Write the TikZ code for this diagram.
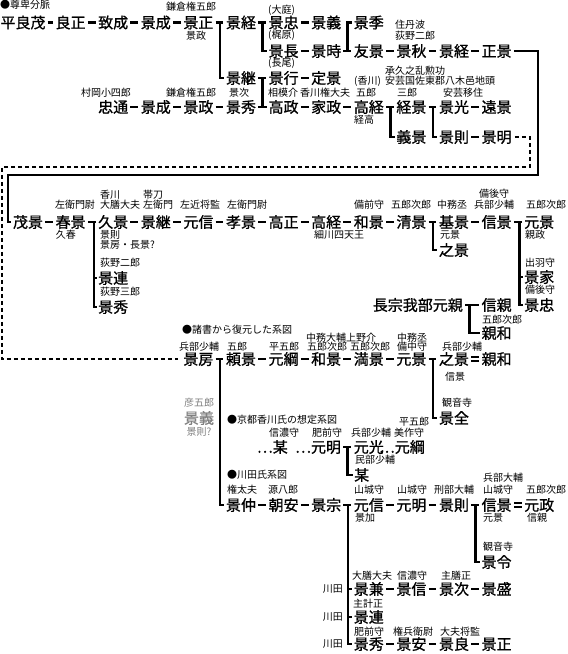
\documentclass[tikz,border=0pt]{standalone}
\usepackage{fontspec}
\setmainfont{Noto Sans CJK JP}
\newfontfamily\jpreg{Noto Sans CJK JP}
\newfontfamily\jpbold[FakeBold=1]{Noto Sans CJK JP}
\newcommand\nmf{\jpbold\fontsize{15}{16}\selectfont}
\newcommand\smf{\jpreg\fontsize{10}{11}\selectfont}
\usetikzlibrary{calc}
\begin{document}
\begin{tikzpicture}[x=1pt,y=-1pt,
  nm/.style={font=\nmf, inner sep=0pt, text height=13.2pt, text depth=1.8pt},
  sm/.style={font=\smf, inner sep=0pt, text height=8.8pt, text depth=1.2pt},
  gr/.style={text=black!50},
  ln/.style={line width=2.6pt},
  lk/.style={ln, shorten <=2pt, shorten >=2.5pt},
  stub/.style={ln, shorten >=1.5pt},
  dotln/.style={line width=2.2pt, dash pattern=on 4pt off 3pt},
  dbl/.style={double, double distance=2.2pt, line width=1.5pt, shorten <=2pt, shorten >=2.5pt}]
\useasboundingbox (0,0) rectangle (568,654);
\fill[white] (0,0) rectangle (568,654);

% ---------------- top section: 尊卑分脈
\node[sm, anchor=west] (t0) at (0,5) {●尊卑分脈};
\node[nm] (A0) at (23,22.5) {平良茂};
\node[nm] (A1) at (70.6,22.5) {良正};
\node[nm] (A2) at (113.2,22.5) {致成};
\node[nm] (A3) at (155.8,22.5) {景成};
\node[nm] (A4) at (198.4,22.5) {景正};
\node[nm] (A5) at (241,22.5) {景経};
\node[nm] (A6) at (283.6,22.5) {景忠};
\node[nm] (A7) at (326.2,22.5) {景義};
\node[nm] (A8) at (368.8,22.5) {景季};
\node[sm] (a4t) at (191,7) {鎌倉権五郎};
\node[sm] (a4b) at (196,36) {景政};
\node[sm, anchor=west] (a6t) at (268,10) {(大庭)};
\node[sm, anchor=west] (b6t) at (268,35) {(梶原)};
\node[sm, anchor=west] (c6t) at (268,63) {(長尾)};
\node[sm, anchor=west] (b9t1) at (395,25) {住丹波};
\node[sm, anchor=west] (b9t2) at (395,36) {荻野二郎};

\node[nm] (B6) at (283.6,51) {景長};
\node[nm] (B7) at (326.2,51) {景時};
\node[nm] (B8) at (368.8,51) {友景};
\node[nm] (B9) at (411.4,51) {景秋};
\node[nm] (B10) at (454,51) {景経};
\node[nm] (B11) at (496.6,51) {正景};

\node[nm] (C5) at (241,78) {景継};
\node[nm] (C6) at (283.6,78) {景行};
\node[nm] (C7) at (326.2,78) {定景};
\node[sm, anchor=west] (c8t1) at (385,71) {承久之乱勲功};
\node[sm, anchor=west] (c8t0) at (354,81) {(香川)};
\node[sm, anchor=west] (c8t2) at (385,81) {安芸国佐東郡八木邑地頭};

\node[sm, anchor=west] (c5b) at (229,93) {景次};
\node[sm] (e2t) at (106,93) {村岡小四郎};
\node[sm] (e4t) at (191,93) {鎌倉権五郎};
\node[sm] (e6t) at (283,93) {相模介};
\node[sm] (e7t) at (325,93) {香川権大夫};
\node[sm] (e8t) at (366,93) {五郎};
\node[sm] (e9t) at (407,93) {三郎};
\node[sm] (e10t) at (463,93) {安芸移住};

\node[nm] (E2) at (113.2,107) {忠通};
\node[nm] (E3) at (155.8,107) {景成};
\node[nm] (E4) at (198.4,107) {景政};
\node[nm] (E5) at (241,107) {景秀};
\node[nm] (E6) at (283.6,107) {高政};
\node[nm] (E7) at (326.2,107) {家政};
\node[nm] (E8) at (368.8,107) {高経};
\node[nm] (E9) at (411.4,107) {経景};
\node[nm] (E10) at (454,107) {景光};
\node[nm] (E11) at (496.6,107) {遠景};
\node[sm] (e8b) at (364,120) {経高};
\node[nm] (F9) at (411.4,137) {義景};
\node[nm] (F10) at (454,137) {景則};
\node[nm] (F11) at (496.6,137) {景明};

% links top
\foreach \a/\b in {A0/A1,A1/A2,A2/A3,A3/A4,A4/A5,A5/A6,A6/A7,B6/B7,B7/B8,B8/B9,B9/B10,B10/B11,
  C5/C6,C6/C7,E2/E3,E3/E4,E4/E5,E5/E6,E6/E7,E7/E8,E8/E9,E9/E10,E10/E11,F10/F11}
  \draw[lk] (\a.east) -- (\b.west);
\coordinate (vA4) at ([xshift=6.5pt]A4.east);
\coordinate (vA5) at ([xshift=6.5pt]A5.east);
\coordinate (vB7) at ([xshift=6.3pt]B7.east);
\coordinate (vC5) at ([xshift=6.5pt]C5.east);
\coordinate (vE8) at ([xshift=6.5pt]E8.east);
\coordinate (vE9) at ([xshift=6.5pt]E9.east);
\draw[stub] (vA4) |- (C5.west);
\draw[stub] (vA5) |- (B6.west);
\draw[stub] (vB7) |- (A8.west);
\draw[stub] (vC5) |- (E6.west);
\draw[stub] (vE8) |- (F9.west);
\draw[stub] (vE9) |- (F10.west);

% ---------------- middle row
\node[nm] (G0) at (28,222) {茂景};
\node[nm] (G1) at (70.6,222) {春景};
\node[nm] (G2) at (113.2,222) {久景};
\node[nm] (G3) at (155.8,222) {景継};
\node[nm] (G4) at (198.4,222) {元信};
\node[nm] (G5) at (241,222) {孝景};
\node[nm] (G6) at (283.6,222) {高正};
\node[nm] (G7) at (326.2,222) {高経};
\node[nm] (G8) at (368.8,222) {和景};
\node[nm] (G9) at (411.4,222) {清景};
\node[nm] (G10) at (454,222) {基景};
\node[nm] (G11) at (496.6,222) {信景};
\node[nm] (G12) at (539.2,222) {元景};

\node[sm] (g1t) at (75,205) {左衛門尉};
\node[sm, anchor=west] (g2t1) at (100,195) {香川};
\node[sm, anchor=west] (g2t2) at (100,205) {大膳大夫};
\node[sm, anchor=west] (g3t1) at (143,195) {帯刀};
\node[sm, anchor=west] (g3t2) at (143,205) {左衛門};
\node[sm] (g4t) at (200,205) {左近将監};
\node[sm] (g5t) at (247,205) {左衛門尉};
\node[sm] (g8t) at (369,205) {備前守};
\node[sm] (g9t) at (411,205) {五郎次郎};
\node[sm] (g10t) at (452,205) {中務丞};
\node[sm] (g11t1) at (494,194) {備後守};
\node[sm] (g11t2) at (494,205) {兵部少輔};
\node[sm] (g12t) at (546,205) {五郎次郎};

\node[sm] (g1b) at (66,235) {久春};
\node[sm, anchor=west] (g2b1) at (100,235) {景則};
\node[sm, anchor=west] (g2b2) at (100,245) {景房・長景?};
\node[sm, anchor=west] (l1t) at (100,263) {荻野二郎};
\node[nm] (L1) at (113.2,278) {景連};
\node[sm, anchor=west] (l2t) at (100,292) {荻野三郎};
\node[nm] (L2) at (113.2,307) {景秀};
\node[sm] (g7b) at (339,235) {細川四天王};
\node[sm, anchor=west] (g10b) at (440,235) {元景};
\node[nm] (H10) at (454,250) {之景};
\node[sm, anchor=west] (g12b) at (525,235) {親政};
\node[sm, anchor=west] (h12t1) at (525,263) {出羽守};
\node[nm] (H12a) at (539.2,277) {景家};
\node[sm, anchor=west] (h12t2) at (525,290) {備後守};
\node[nm] (H12b) at (539.2,305) {景忠};

\node[nm, anchor=east] (J) at (463,305) {長宗我部元親};
\node[nm] (J11) at (496.6,305) {信親};
\node[sm, anchor=west] (j11b) at (482,320) {五郎次郎};
\node[nm] (J11b) at (496.6,333) {親和};

\foreach \a/\b in {G0/G1,G1/G2,G2/G3,G3/G4,G4/G5,G5/G6,G6/G7,G7/G8,G8/G9,G9/G10,G10/G11,G11/G12,J/J11}
  \draw[lk] (\a.east) -- (\b.west);
\coordinate (vG1) at ([xshift=8pt]G1.east);
\coordinate (vG9) at ([xshift=6.5pt]G9.east);
\coordinate (vG11) at ([xshift=7.5pt]G11.east);
\coordinate (vJ) at ([xshift=6.5pt]J.east);
\draw[stub] (vG1) |- (L2.west);
\draw[stub] (vG1 |- L1.west) -- (L1.west);
\draw[stub] (vG9) |- (H10.west);
\draw[stub] (vG11) |- (H12b.west);
\draw[stub] (vG11 |- H12a.west) -- (H12a.west);
\draw[stub] (vJ) |- (J11b.west);

% ---------------- 諸書から復元した系図
\node[sm, anchor=west] (s0) at (182,330) {●諸書から復元した系図};
\node[sm] (k4t) at (199,347) {兵部少輔};
\node[sm, anchor=west] (k5t) at (227,347) {五郎};
\node[sm] (k6t) at (284,347) {平五郎};
\node[sm, anchor=west] (k7t1) at (306,338) {中務大輔上野介};
\node[sm] (k7t2) at (327,347) {五郎次郎};
\node[sm] (k8t) at (370,347) {五郎次郎};
\node[sm] (k9t1) at (412,338) {中務丞};
\node[sm] (k9t2) at (412,347) {備中守};
\node[sm] (k10t) at (462,347) {兵部少輔};

\node[nm] (K4) at (198.4,359) {景房};
\node[nm] (K5) at (241,359) {頼景};
\node[nm] (K6) at (283.6,359) {元綱};
\node[nm] (K7) at (326.2,359) {和景};
\node[nm] (K8) at (368.8,359) {満景};
\node[nm] (K9) at (411.4,359) {元景};
\node[nm] (K10) at (454,359) {之景};
\node[nm] (K11) at (496.6,359) {親和};
\node[sm] (k10b) at (455,377) {信景};
\node[sm, anchor=west] (q10t) at (442,403) {観音寺};
\node[nm] (Q10) at (454,418) {景全};

\node[sm, gr] (x1) at (199,403) {彦五郎};
\node[nm, gr] (X) at (199,418) {景義};
\node[sm, gr] (x2) at (199,432) {景則?};

\foreach \a/\b in {K4/K5,K5/K6,K6/K7,K7/K8,K8/K9,K9/K10}
  \draw[lk] (\a.east) -- (\b.west);
\draw[dbl] (K10.east) -- (K11.west);
\coordinate (vK9) at ([xshift=6.5pt]K9.east);
\draw[stub] (vK9) |- (Q10.west);

% ---------------- 京都香川氏の想定系図
\node[sm, anchor=west] (s1) at (227,420) {●京都香川氏の想定系図};
\node[sm] (m9t0) at (414,422) {平五郎};
\node[sm] (m6t) at (284,433) {信濃守};
\node[sm] (m7t) at (327,433) {肥前守};
\node[sm] (m8t) at (371,433) {兵部少輔};
\node[sm] (m9t) at (409,433) {美作守};
\node[nm, anchor=east] (M6) at (288,447) {…某};
\node[nm, anchor=east] (M7) at (341.2,447) {…元明};
\node[nm] (M8) at (368.8,447) {元光};
\node[nm, anchor=east] (M9) at (425,447) {…元綱};
\node[sm, anchor=west] (n8t) at (355,460) {民部少輔};
\node[nm, anchor=west] (N8) at (354,475) {某};
\coordinate (vM7) at ([xshift=6.5pt]M7.east);
\draw[lk] (M7.east) -- (M8.west);
\draw[stub] (vM7) |- (N8.west);

% ---------------- 川田氏系図
\node[sm, anchor=west] (s2) at (227,475) {●川田氏系図};
\node[sm] (p5t) at (242,490) {権太夫};
\node[sm] (p6t) at (283,490) {源八郎};
\node[sm] (p8t) at (369,490) {山城守};
\node[sm] (p9t) at (412,490) {山城守};
\node[sm] (p10t) at (454,490) {刑部大輔};
\node[sm, anchor=west] (p11t1) at (483,478) {兵部大輔};
\node[sm, anchor=west] (p11t2) at (483,490) {山城守};
\node[sm] (p12t) at (546,490) {五郎次郎};

\node[nm] (P5) at (241,505) {景仲};
\node[nm] (P6) at (283.6,505) {朝安};
\node[nm] (P7) at (326.2,505) {景宗};
\node[nm] (P8) at (368.8,505) {元信};
\node[nm] (P9) at (411.4,505) {元明};
\node[nm] (P10) at (454,505) {景則};
\node[nm] (P11) at (496.6,505) {信景};
\node[nm] (P12) at (539.2,505) {元政};
\node[sm, anchor=west] (p8b) at (355,518) {景加};
\node[sm, anchor=west] (p11b) at (483,518) {元景};
\node[sm, anchor=west] (p12b) at (527,518) {信親};
\node[sm, anchor=west] (q11t) at (483,547) {観音寺};
\node[nm] (Q11) at (496.6,562) {景令};

\node[sm] (r8t) at (372,576) {大膳大夫};
\node[sm] (r9t) at (412,576) {信濃守};
\node[sm] (r10t) at (456,576) {主膳正};
\node[sm, anchor=east] (r0) at (343,589) {川田};
\node[nm] (R8) at (368.8,589) {景兼};
\node[nm] (R9) at (411.4,589) {景信};
\node[nm] (R10) at (454,589) {景次};
\node[nm] (R11) at (496.6,589) {景盛};
\node[sm, anchor=west] (s8t) at (353,604) {主計正};
\node[sm, anchor=east] (s0b) at (343,617) {川田};
\node[nm] (S8) at (368.8,617) {景連};
\node[sm] (t8t) at (369,632) {肥前守};
\node[sm] (t9t) at (413,632) {権兵衛尉};
\node[sm] (t10t) at (460,632) {大夫将監};
\node[sm, anchor=east] (t0b) at (343,644) {川田};
\node[nm] (T8) at (368.8,644) {景秀};
\node[nm] (T9) at (411.4,644) {景安};
\node[nm] (T10) at (454,644) {景良};
\node[nm] (T11) at (496.6,644) {景正};

\foreach \a/\b in {P5/P6,P6/P7,P7/P8,P8/P9,P9/P10,P10/P11,R8/R9,R9/R10,R10/R11,T8/T9,T9/T10,T10/T11}
  \draw[lk] (\a.east) -- (\b.west);
\draw[dbl] (P11.east) -- (P12.west);
\coordinate (vP7) at ([xshift=6.5pt]P7.east);
\coordinate (vP10) at ([xshift=6.5pt]P10.east);
\draw[stub] (vP7) |- (T8.west);
\draw[stub] (vP7 |- R8.west) -- (R8.west);
\draw[stub] (vP7 |- S8.west) -- (S8.west);
\draw[stub] (vP10) |- (Q11.west);

% 景房 bracket
\coordinate (vK4) at ([xshift=6.5pt]K4.east);
\draw[stub] (vK4) |- (P5.west);

% frame lines
\coordinate (fr1) at (538,175);
\coordinate (fr2) at (8,222);
\draw[ln] ([xshift=2pt]B11.east) -| (fr1) -| (fr2) -- ([xshift=-1.5pt]G0.west);
\coordinate (dt1) at (530,167);
\coordinate (dt2) at (2,359);
\draw[dotln] ([xshift=3pt]F11.east) -| (dt1) -| (dt2) -- ([xshift=-5pt]K4.west);
\end{tikzpicture}
\end{document}
